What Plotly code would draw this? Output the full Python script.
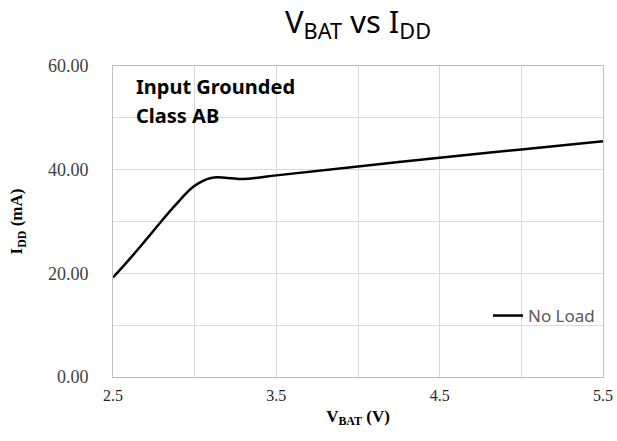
import plotly.graph_objects as go

# Data
vbat = [2.5, 2.6, 2.7, 2.8, 2.9, 3.0, 3.1, 3.2, 3.3, 3.4, 3.5, 4.0, 4.5, 5.0, 5.5]
idd_no_load = [19.2, 22.7, 26.4, 30.2, 33.8, 36.9, 38.4, 38.4, 38.2, 38.5, 38.9, 40.6, 42.3, 43.9, 45.5]

x_tickvals = [2.5, 3.5, 4.5, 5.5]
x_ticktext = ["2.5", "3.5", "4.5", "5.5"]
y_tickvals = [0, 20, 40, 60]
y_ticktext = ["0.00", "20.00", "40.00", "60.00"]

SANS = "Noto Sans, Open Sans, DejaVu Sans, sans-serif"
SERIF = "Liberation Serif, Times New Roman, serif"
GRID = "#d9d9d9"

fig = go.Figure()
fig.add_trace(go.Scatter(
    x=vbat, y=idd_no_load, mode="lines", name="No Load",
    line=dict(color="black", width=2.5, shape="spline", smoothing=1.2),
))

fig.update_layout(
    width=617, height=441,
    margin=dict(l=113, r=14, t=66, b=64),
    paper_bgcolor="white", plot_bgcolor="white",
    title=dict(
        text="V<sub>BAT</sub> vs I<sub>DD</sub>",
        font=dict(family=SANS, size=31, color="black"),
        x=(113 + 603) / 2 / 617, xanchor="center",
        y=1 - 22 / 441, yanchor="middle", yref="container",
    ),
    showlegend=True,
    legend=dict(
        x=(488 - 113) / 490, xanchor="left",
        y=(377 - 316) / 311, yanchor="middle",
        bgcolor="rgba(0,0,0,0)", borderwidth=0,
        font=dict(family=SANS, size=17, color="#595959"),
    ),
    xaxis=dict(
        range=[2.5, 5.5], tickvals=x_tickvals, ticktext=x_ticktext,
        automargin=False,
        showgrid=True, gridcolor=GRID, gridwidth=1,
        showline=True, mirror=True, linecolor="#bfbfbf", linewidth=1,
        zeroline=False, ticks="", ticklabelstandoff=4,
        tickfont=dict(family=SERIF, size=16, color="#262626"),
        minor=dict(tick0=2.5, dtick=0.5, showgrid=True, gridcolor=GRID, ticks=""),
        title=dict(text="<b>V<sub>BAT</sub> (V)</b>", standoff=6,
                   font=dict(family=SERIF, size=17, color="black")),
    ),
    yaxis=dict(
        range=[0, 60], tickvals=y_tickvals, ticktext=y_ticktext,
        automargin=False,
        showgrid=True, gridcolor=GRID, gridwidth=1,
        showline=True, mirror=True, linecolor="#bfbfbf", linewidth=1,
        zeroline=False, ticks="", ticklabelstandoff=20,
        tickfont=dict(family=SERIF, size=18, color="#404040"),
        minor=dict(tick0=0, dtick=10, showgrid=True, gridcolor=GRID, ticks=""),
        title=dict(text="<b>I<sub>DD</sub> (mA)</b>", standoff=20,
                   font=dict(family=SERIF, size=17, color="black")),
    ),
    annotations=[
        dict(text="<b>Input Grounded</b>", xref="paper", yref="paper",
             x=(134 - 113) / 490, y=(377 - 86) / 311, xanchor="left", yanchor="middle",
             showarrow=False, font=dict(family=SANS, size=20, color="black")),
        dict(text="<b>Class AB</b>", xref="paper", yref="paper",
             x=(134 - 113) / 490, y=(377 - 116) / 311, xanchor="left", yanchor="middle",
             showarrow=False, font=dict(family=SANS, size=20, color="black")),
    ],
)

fig.write_html(
    "out.html",
    config={"displayModeBar": False},
    post_script=(
        "document.documentElement.style.margin='0';"
        "document.documentElement.style.overflow='hidden';"
        "document.body.style.margin='0';"
        "document.body.style.overflow='hidden';"
        "document.body.style.height='441px';"
    ),
)
